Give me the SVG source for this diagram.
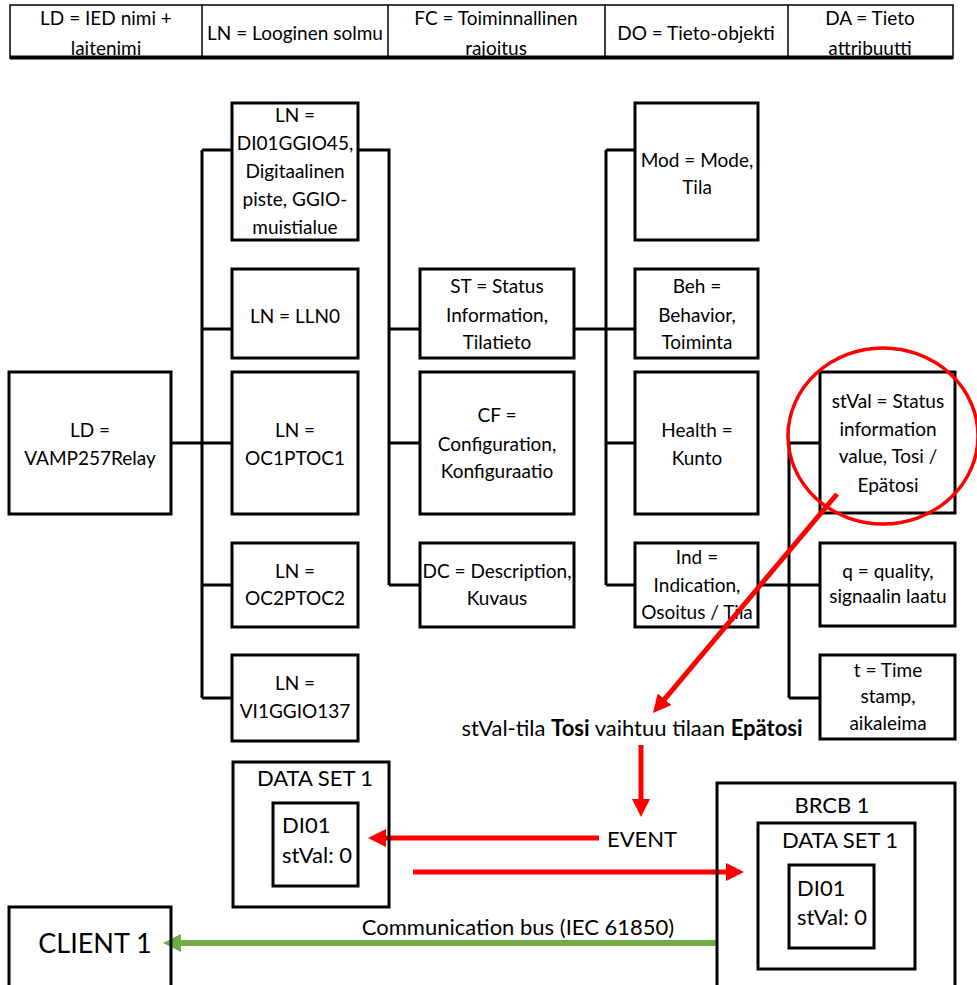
<svg xmlns="http://www.w3.org/2000/svg" width="977" height="985" viewBox="0 0 977 985">
<style>
text{font-family:Lato,"Open Sans","Liberation Sans",sans-serif;font-size:19px;fill:#000;text-anchor:middle}
.l{text-anchor:start}
.f{font-size:22px}
.b{stroke:#000;stroke-width:3;fill:#fff}
.c{stroke:#000;stroke-width:3;fill:none}
.r{stroke:#f00;stroke-width:5;fill:none}
.g{stroke:#70AD47;stroke-width:6;fill:none}
.bold{font-weight:bold}
</style>
<defs>
<marker id="ar" viewBox="0 0 18 18" refX="8" refY="9" markerWidth="18" markerHeight="18" markerUnits="userSpaceOnUse" orient="auto"><path d="M0,0 L18,9 L0,18 z" fill="#f00"/></marker>
<marker id="ag" viewBox="0 0 18 18" refX="8" refY="9" markerWidth="18" markerHeight="18" markerUnits="userSpaceOnUse" orient="auto"><path d="M0,0 L18,9 L0,18 z" fill="#70AD47"/></marker>
</defs>
<rect width="977" height="985" fill="#fff"/>

<g id="legend">
<rect x="10" y="5" width="943" height="53" fill="#fff" stroke="#000" stroke-width="1.5"/>
<path d="M202,5V58M388,5V58M605,5V58M788,5V58" stroke="#000" stroke-width="1.5"/>
<path d="M10,57.5H953" stroke="#000" stroke-width="4"/>
<text x="106" y="25">LD = IED nimi +</text><text x="106" y="55">laitenimi</text>
<text x="295" y="40">LN = Looginen solmu</text>
<text x="496" y="25">FC = Toiminnallinen</text><text x="496" y="55">rajoitus</text>
<text x="696" y="40">DO = Tieto-objekti</text>
<text x="870" y="25">DA = Tieto</text><text x="870" y="55">attribuutti</text>
</g>

<g id="connectors">
<path class="c" d="M202,150V698M171,443H232M202,150H232M202,329H232M202,585H232M202,698H232"/>
<path class="c" d="M358,150H389V585M389,329H420M389,443H420M389,585H420"/>
<path class="c" d="M574,329H635M606,150V585M606,150H635M606,443H635M606,585H635"/>
<path class="c" d="M758,585H820M789,443V698M789,443H820M789,698H820"/>
</g>

<g id="ld"><rect class="b" x="9" y="372" width="162" height="142"/><text x="90" y="437">LD =</text><text x="90" y="465">VAMP257Relay</text></g>
<g id="ln-di01"><rect class="b" x="232" y="103" width="126" height="137"/><text x="295" y="122">LN =</text><text x="295" y="150">DI01GGIO45,</text><text x="295" y="178">Digitaalinen</text><text x="295" y="206">piste, GGIO-</text><text x="295" y="234">muistialue</text></g>
<g id="ln-lln0"><rect class="b" x="232" y="269" width="126" height="89"/><text x="295" y="323">LN = LLN0</text></g>
<g id="ln-oc1"><rect class="b" x="232" y="372" width="126" height="142"/><text x="295" y="437">LN =</text><text x="295" y="465">OC1PTOC1</text></g>
<g id="ln-oc2"><rect class="b" x="232" y="543" width="126" height="84"/><text x="295" y="578">LN =</text><text x="295" y="605">OC2PTOC2</text></g>
<g id="ln-vi1"><rect class="b" x="232" y="655" width="126" height="86"/><text x="295" y="690">LN =</text><text x="295" y="718">VI1GGIO137</text></g>

<g id="fc-st"><rect class="b" x="420" y="269" width="154" height="89"/><text x="497" y="293">ST = Status</text><text x="497" y="322">Information,</text><text x="497" y="349">Tilatieto</text></g>
<g id="fc-cf"><rect class="b" x="420" y="372" width="154" height="142"/><text x="497" y="422">CF =</text><text x="497" y="451">Configuration,</text><text x="497" y="478">Konfiguraatio</text></g>
<g id="fc-dc"><rect class="b" x="420" y="543" width="154" height="84"/><text x="497" y="578">DC = Description,</text><text x="497" y="605">Kuvaus</text></g>

<g id="do-mod"><rect class="b" x="635" y="103" width="123" height="137"/><text x="697" y="167">Mod = Mode,</text><text x="697" y="194">Tila</text></g>
<g id="do-beh"><rect class="b" x="635" y="269" width="123" height="89"/><text x="697" y="293">Beh =</text><text x="697" y="322">Behavior,</text><text x="697" y="349">Toiminta</text></g>
<g id="do-health"><rect class="b" x="635" y="372" width="123" height="142"/><text x="697" y="437">Health =</text><text x="697" y="465">Kunto</text></g>
<g id="do-ind"><rect class="b" x="635" y="543" width="123" height="84"/><text x="697" y="564">Ind =</text><text x="697" y="592">Indication,</text><text x="697" y="619">Osoitus / Tila</text></g>

<g id="da-stval"><rect class="b" x="820" y="372" width="135" height="141"/><text x="888" y="408">stVal = Status</text><text x="888" y="436">information</text><text x="888" y="463">value, Tosi /</text><text x="888" y="492">Epätosi</text></g>
<g id="da-q"><rect class="b" x="820" y="543" width="135" height="83"/><text x="888" y="578">q = quality,</text><text x="888" y="603">signaalin laatu</text></g>
<g id="da-t"><rect class="b" x="820" y="655" width="135" height="84"/><text x="888" y="677">t = Time</text><text x="888" y="703">stamp,</text><text x="888" y="730">aikaleima</text></g>

<g id="highlight"><ellipse cx="883" cy="436" rx="95" ry="88" fill="none" stroke="#f00" stroke-width="3.5"/></g>

<g id="flow">
<path class="r" d="M837,494L659.4,705.3" marker-end="url(#ar)"/>
<text class="f" x="632" y="736">stVal-tila <tspan class="bold">Tosi</tspan> vaihtuu tilaan <tspan class="bold">Epätosi</tspan></text>
<path class="r" d="M641,745V807" marker-end="url(#ar)"/>
<text class="f" x="642" y="847">EVENT</text>
<path class="r" d="M599,838H378" marker-end="url(#ar)"/>
<path class="r" d="M413,872H734" marker-end="url(#ar)"/>
<text class="f" x="518" y="935">Communication bus (IEC 61850)</text>
<path class="g" d="M717,943H173" marker-end="url(#ag)"/>
</g>

<g id="dataset-left"><rect class="c" x="233" y="762" width="156" height="145"/><text class="f" x="315" y="786">DATA SET 1</text><rect class="c" x="273" y="803" width="85" height="83"/><text class="l f" x="282" y="833">DI01</text><text class="l f" x="282" y="863">stVal: 0</text></g>

<g id="brcb"><rect class="c" x="717" y="783" width="238" height="215"/><text class="f" x="832" y="813">BRCB 1</text><rect class="c" x="758" y="823" width="157" height="146"/><text class="f" x="840" y="848">DATA SET 1</text><rect class="c" x="789" y="865" width="85" height="83"/><text class="l f" x="797" y="896">DI01</text><text class="l f" x="797" y="925">stVal: 0</text></g>

<g id="client"><rect class="c" x="9" y="907" width="162" height="90"/><text x="95" y="953" style="font-size:27px">CLIENT 1</text></g>
</svg>
